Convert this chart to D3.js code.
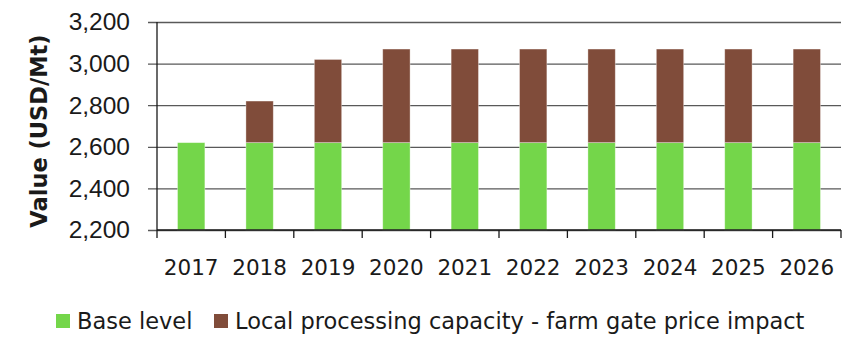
<!DOCTYPE html>
<html>
<head>
<meta charset="utf-8">
<script src="https://cdn.jsdelivr.net/npm/d3@7"></script>
<style>
  html, body { margin: 0; padding: 0; background: #fff; }
  svg { display: block; font-family: "DejaVu Sans", sans-serif; }
</style>
</head>
<body>
<svg id="chart" width="843" height="337"></svg>
<script>
// Farm gate price: base level plus local processing capacity impact (USD/Mt)
const years = ["2017", "2018", "2019", "2020", "2021", "2022", "2023", "2024", "2025", "2026"];
const baseLevel = [2620, 2620, 2620, 2620, 2620, 2620, 2620, 2620, 2620, 2620];
const processingImpact = [0, 200, 400, 450, 450, 450, 450, 450, 450, 450];
const yTicks = [2200, 2400, 2600, 2800, 3000, 3200];
const seriesNames = ["Base level", "Local processing capacity - farm gate price impact"];
const seriesColors = ["#74d64a", "#804c3a"];

const svg = d3.select("#chart");
const plot = { left: 157, right: 841, top: 22, bottom: 230 };
const ink = "#1a1a1a";

const x = d3.scaleBand()
  .domain(years)
  .range([plot.left, plot.right])
  .paddingInner(0.6)
  .paddingOuter(0.3);

const y = d3.scaleLinear()
  .domain([2200, 3200])
  .range([plot.bottom, plot.top]);

// Horizontal gridlines with left ticks and labels
const yAxis = d3.axisLeft(y)
  .tickValues(yTicks)
  .tickFormat(d3.format(","))
  .tickSize(9)
  .tickPadding(18);

const gy = svg.append("g")
  .attr("transform", `translate(${plot.left},0)`)
  .call(yAxis);
gy.select(".domain").remove();
gy.selectAll(".tick line")
  .attr("x2", plot.right - plot.left)
  .attr("x1", -9)
  .attr("stroke", "#595959")
  .attr("stroke-width", 1.3);
gy.selectAll(".tick text")
  .attr("fill", ink)
  .style("font-size", "24.5px");

// Stacked bars
const stackData = years.map((yr, i) => ({ year: yr, base: baseLevel[i], impact: processingImpact[i] }));
const stacked = d3.stack().keys(["base", "impact"])(stackData);

// stack starts at zero; clip the visible part to the axis minimum
const yMin = y.domain()[0];
svg.append("g")
  .selectAll("g")
  .data(stacked)
  .join("g")
  .attr("fill", (d, i) => seriesColors[i])
  .selectAll("rect")
  .data(d => d.filter(p => p[1] > p[0]))
  .join("rect")
  .attr("x", d => x(d.data.year))
  .attr("width", x.bandwidth())
  .attr("y", d => y(d[1]))
  .attr("height", d => y(Math.max(d[0], yMin)) - y(d[1]))
  .attr("stroke", "rgba(255,255,255,0.45)")
  .attr("stroke-width", 0.8);

// Y axis line
svg.append("line")
  .attr("x1", plot.left).attr("x2", plot.left)
  .attr("y1", plot.top).attr("y2", plot.bottom)
  .attr("stroke", ink).attr("stroke-width", 1.3);

// X axis with ticks at category boundaries
svg.append("line")
  .attr("x1", plot.left).attr("x2", plot.right)
  .attr("y1", plot.bottom).attr("y2", plot.bottom)
  .attr("stroke", ink).attr("stroke-width", 1.3);

const edges = years.map((yr, i) => plot.left + i * x.step()).concat([plot.right]);
svg.append("g")
  .selectAll("line")
  .data(edges)
  .join("line")
  .attr("x1", d => d).attr("x2", d => d)
  .attr("y1", plot.bottom).attr("y2", plot.bottom + 8)
  .attr("stroke", ink).attr("stroke-width", 1.3);

svg.append("g")
  .selectAll("text")
  .data(years)
  .join("text")
  .attr("x", d => x(d) + x.bandwidth() / 2)
  .attr("y", 275)
  .attr("text-anchor", "middle")
  .attr("fill", ink)
  .style("font-size", "21.5px")
  .text(d => d);

// Y axis title
svg.append("text")
  .attr("transform", `translate(47,${(plot.top + plot.bottom) / 2 + 5}) rotate(-90)`)
  .attr("text-anchor", "middle")
  .attr("fill", ink)
  .style("font-size", "22.5px")
  .style("font-weight", "bold")
  .text("Value (USD/Mt)");

// Legend
const legendItems = [
  { name: seriesNames[0], color: seriesColors[0], x: 56 },
  { name: seriesNames[1], color: seriesColors[1], x: 214 }
];
const lg = svg.append("g")
  .selectAll("g")
  .data(legendItems)
  .join("g")
  .attr("transform", d => `translate(${d.x},314)`);
lg.append("rect")
  .attr("width", 14).attr("height", 14)
  .attr("fill", d => d.color);
lg.append("text")
  .attr("x", 21).attr("y", 15)
  .attr("fill", ink)
  .style("font-size", "22.5px")
  .text(d => d.name);
</script>
</body>
</html>
